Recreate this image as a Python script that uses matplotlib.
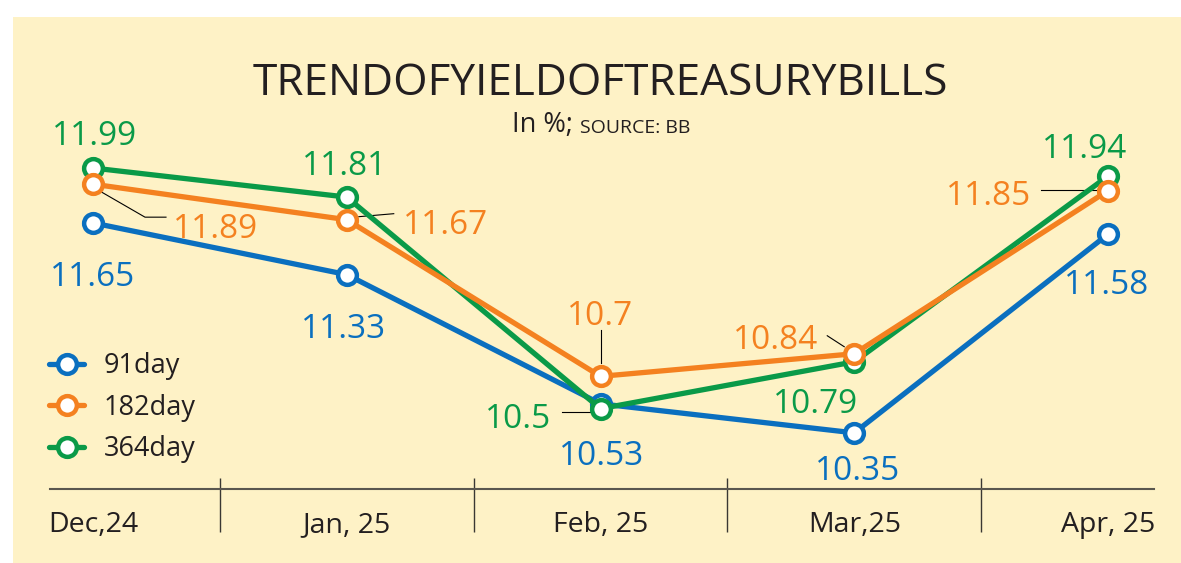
#!/usr/bin/env python3
"""Trend of yield of treasury bills, Dec 2024 - Apr 2025."""

import matplotlib

matplotlib.use("Agg")
import matplotlib.pyplot as plt
import matplotlib.transforms as mtransforms
from matplotlib.lines import Line2D
from matplotlib.patches import Rectangle

MONTHS = ["Dec,24", "Jan, 25", "Feb, 25", "Mar,25", "Apr, 25"]
SERIES = ["91day", "182day", "364day"]
YIELD_91 = [11.65, 11.33, 10.53, 10.35, 11.58]
YIELD_182 = [11.89, 11.67, 10.70, 10.84, 11.85]
YIELD_364 = [11.99, 11.81, 10.50, 10.79, 11.94]

COLORS = {"91day": "#0A6FBF", "182day": "#F48120", "364day": "#0A9A48"}
INK = "#231F20"
PAPER = "#FEF2C6"

# value label placement, pixels from the marker: (ha, dx, dy, leader polyline)
LABEL_POS = {
    "91day": [
        ("center", 0, -63, None),
        ("center", -3, -63, None),
        ("center", 1, -61, None),
        ("center", 3, -47, None),
        ("center", -1, -60, None),
    ],
    "182day": [
        ("left", 80, -54, [(7, -7), (52, -33), (73, -33)]),
        ("left", 56, -14, [(12, 3), (47, 6)]),
        ("center", 0, 51, [(0, 46), (0, 13)]),
        ("right", -36, 5, [(-27, 18), (-10, 7)]),
        ("right", -77, -14, [(-67, 1), (-12, 1)]),
    ],
    "364day": [
        ("center", 2, 23, None),
        ("center", -2, 22, None),
        ("right", -49, -19, [(-39, -3), (-10, -3)]),
        ("center", -39, -51, None),
        ("center", -23, 18, None),
    ],
}

# canvas in pixels, and where the data sits on it
W, H = 1181, 563
X_PX, X_STEP = 93, 253.75  # Dec position, month spacing
Y_PX_12, Y_STEP = 166.4, 161.5  # pixel row of 12.0%, pixels per point


def fx(px):
    return px / W


def fy(py):
    return 1 - py / H


def main():
    plt.rcParams["font.family"] = ["Open Sans", "DejaVu Sans"]

    fig = plt.figure(figsize=(W / 100, H / 100), dpi=100)
    fig.patch.set_facecolor("white")
    fig.patches.append(
        Rectangle((fx(13), 0), 1 - fx(13), fy(17), transform=fig.transFigure,
                  facecolor=PAPER, edgecolor="none", zorder=-10)
    )

    ax = fig.add_axes([0, 0, 1, 1])
    ax.set_axis_off()

    values = {"91day": YIELD_91, "182day": YIELD_182, "364day": YIELD_364}
    x = list(range(len(MONTHS)))

    lines = {}
    for name, z in [("91day", 3), ("364day", 4), ("182day", 5)]:
        (ln,) = ax.plot(
            x, values[name], color=COLORS[name], lw=3.8, marker="o", ms=13.5,
            mfc="white", mec=COLORS[name], mew=3.2, zorder=z, label=name,
            solid_capstyle="round",
        )
        lines[name] = ln

    for name in SERIES:
        for i, v in enumerate(values[name]):
            ha, dx, dy, leader = LABEL_POS[name][i]
            ax.annotate(f"{v:g}", xy=(i, v), xytext=(dx, dy), textcoords="offset pixels",
                        ha=ha, va="baseline", fontsize=24, color=COLORS[name], zorder=6)
            if leader:
                tr = mtransforms.IdentityTransform() + mtransforms.ScaledTranslation(i, v, ax.transData)
                xs, ys = zip(*leader)
                ax.add_line(Line2D(xs, ys, transform=tr, color="black", lw=0.8, zorder=2))

    ax.legend(
        handles=[lines[s] for s in SERIES], loc="upper left",
        bbox_to_anchor=(fx(49), fy(352)), bbox_transform=fig.transFigure,
        frameon=False, fontsize=19.5, handlelength=1.3, handletextpad=0.72,
        labelspacing=0.5, borderpad=0, borderaxespad=0, labelcolor=INK,
    )

    # bottom rule with month cells
    fig.add_artist(Line2D([fx(50), fx(1154)], [fy(489)] * 2, transform=fig.transFigure,
                          color="#5A574F", lw=1.5))
    blend = mtransforms.blended_transform_factory(ax.transData, fig.transFigure)
    ax.vlines([i + 0.5 for i in x[:-1]], fy(532), fy(478), transform=blend,
              color="#3A3833", lw=1.0)
    for i, m in zip(x, MONTHS):
        ax.text(i, fy(532), m, transform=blend, ha="center", va="baseline",
                fontsize=20.5, color=INK)

    fig.text(fx(600), fy(95), "TRENDOFYIELDOFTREASURYBILLS", ha="center", va="baseline",
             fontsize=31.8, color=INK)
    t1 = fig.text(fx(512), fy(132), "In %;", ha="left", va="baseline", fontsize=19.5, color=INK)
    ax.annotate("SOURCE: BB", xy=(1, 0), xycoords=t1, xytext=(7, 2), textcoords="offset pixels",
                ha="left", va="bottom", fontsize=14, color=INK, annotation_clip=False)

    ax.set_xlim(-X_PX / X_STEP, (W - X_PX) / X_STEP)
    ax.set_ylim(12 - (H - Y_PX_12) / Y_STEP, 12 + Y_PX_12 / Y_STEP)

    fig.savefig("out.png", dpi=100, facecolor="white")


if __name__ == "__main__":
    main()
